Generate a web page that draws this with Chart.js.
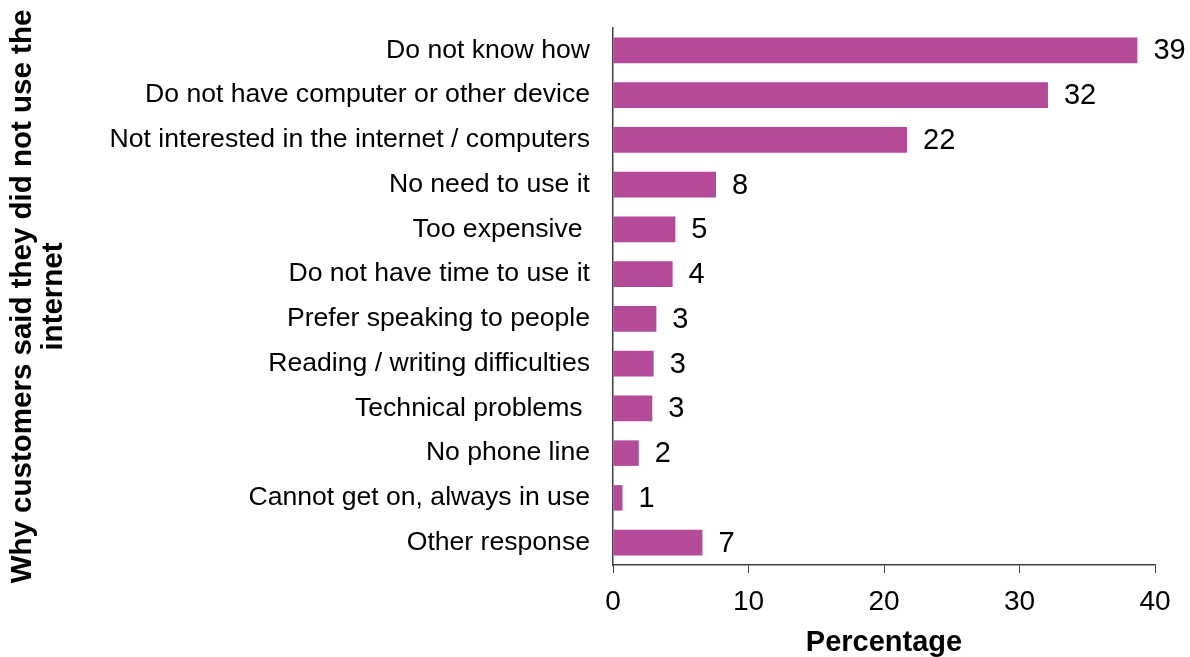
<!DOCTYPE html>
<html>
<head>
<meta charset="utf-8">
<script src="https://cdn.jsdelivr.net/npm/chart.js@4.4.0/dist/chart.umd.min.js"></script>
<style>
  html, body { margin: 0; padding: 0; background: #fff; }
  #wrap { width: 1190px; height: 657px; }
</style>
</head>
<body>
<div id="wrap"><canvas id="reasonsChart" width="1190" height="657"></canvas></div>
<script>
// reasons given, top to bottom
const reasons = [
    'Do not know how',
    'Do not have computer or other device',
    'Not interested in the internet / computers',
    'No need to use it',
    'Too expensive ',
    'Do not have time to use it',
    'Prefer speaking to people',
    'Reading / writing difficulties',
    'Technical problems ',
    'No phone line',
    'Cannot get on, always in use',
    'Other response'
];
// percentage of customers
const percentages = [38.7, 32.1, 21.7, 7.6, 4.6, 4.4, 3.2, 3.0, 2.9, 1.9, 0.7, 6.6];
const xTicks = [0, 10, 20, 30, 40];

const FONT = '"Liberation Sans", Arial, sans-serif';
const BAR_COLOR = '#b44a98';

// writes the rounded value just past the end of each bar
const valueLabels = {
    id: 'valueLabels',
    afterDatasetsDraw(chart) {
        const ctx = chart.ctx;
        const meta = chart.getDatasetMeta(0);
        ctx.save();
        ctx.font = '29px ' + FONT;
        ctx.fillStyle = '#000';
        ctx.textAlign = 'left';
        ctx.textBaseline = 'middle';
        meta.data.forEach((bar, i) => {
            const v = chart.data.datasets[0].data[i];
            ctx.fillText(String(Math.round(v)), bar.x + 16, bar.y + 1);
        });
        ctx.restore();
    }
};

new Chart(document.getElementById('reasonsChart').getContext('2d'), {
    type: 'bar',
    data: {
        labels: reasons,
        datasets: [{
            label: 'Percentage',
            data: percentages,
            backgroundColor: BAR_COLOR,
            borderWidth: 0,
            barPercentage: 0.57,
            categoryPercentage: 1
        }]
    },
    options: {
        indexAxis: 'y',
        responsive: false,
        animation: false,
        layout: { padding: { top: 28, right: 35, bottom: 0, left: 0 } },
        plugins: {
            legend: { display: false },
            tooltip: { enabled: false }
        },
        scales: {
            x: {
                min: 0,
                max: 40,
                afterBuildTicks: (scale) => { scale.ticks = xTicks.map(v => ({ value: v })); },
                afterFit: (scale) => { scale.height = 92; },
                grid: { drawOnChartArea: false, drawTicks: true, tickLength: 8, color: '#404040' },
                border: { display: true, color: '#404040', width: 1.5 },
                ticks: { color: '#000', font: { family: FONT, size: 28 }, padding: 12 },
                title: {
                    display: true,
                    text: 'Percentage',
                    color: '#000',
                    font: { family: FONT, size: 29, weight: 'bold', lineHeight: 1 },
                    padding: { top: 0, bottom: 0 }
                }
            },
            y: {
                afterFit: (scale) => {
                    scale.width = 613;
                    scale.paddingTop = 0;
                    scale.paddingBottom = 0;
                },
                grid: { display: false, drawTicks: false },
                border: { display: true, color: '#404040', width: 1.5 },
                ticks: { color: '#000', font: { family: FONT, size: 26.6 }, padding: 23 },
                title: {
                    display: true,
                    text: ['Why customers said they did not use the', 'internet'],
                    color: '#000',
                    font: { family: FONT, size: 29.5, weight: 'bold', lineHeight: 1.07 },
                    padding: { top: 7, bottom: 0 }
                }
            }
        }
    },
    plugins: [valueLabels]
});
</script>
</body>
</html>
